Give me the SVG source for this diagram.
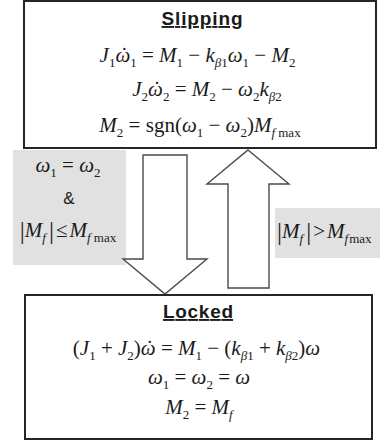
<svg xmlns="http://www.w3.org/2000/svg" width="380" height="443" viewBox="0 0 380 443">
<style>
.box{fill:#fff;stroke:#262626;stroke-width:2}
.grey{fill:#e1e1e1}
.arrow{fill:#fff;stroke:#4a4a4a;stroke-width:1.4;stroke-linejoin:miter}
.title{font-family:"Liberation Sans",Arial,sans-serif;font-weight:bold;font-size:19px;fill:#1a1a1a;text-decoration:underline}
.eq{font-family:"Liberation Serif","Times New Roman",serif;font-size:21px;fill:#1a1a1a}
.i{font-style:italic}
.sb{font-size:13px}
.amp{font-family:"Liberation Sans",Arial,sans-serif;font-size:17px;fill:#1a1a1a}
.bar{font-family:"Liberation Serif","Times New Roman",serif;font-size:25px;fill:#1a1a1a}
</style>
<g id="cond-lock">
<rect class="grey" x="13" y="150" width="113" height="115"/>
<text class="eq" x="68" y="172" text-anchor="middle"><tspan class="i">ω</tspan><tspan class="sb" dy="5">1</tspan><tspan dy="-5"> = </tspan><tspan class="i">ω</tspan><tspan class="sb" dy="5">2</tspan></text>
<text class="amp" x="69" y="204" text-anchor="middle">&amp;</text>
<text class="eq" x="68" y="237" text-anchor="middle"><tspan class="bar" dy="2">|</tspan><tspan class="i" dy="-2">M</tspan><tspan class="sb i" dy="5">f</tspan><tspan class="bar" dy="-3" dx="3">|</tspan><tspan dy="-2" dx="2">≤</tspan><tspan class="i" dx="2">M</tspan><tspan class="sb" dy="5"><tspan class="i">f</tspan> max</tspan></text>
</g>
<g id="cond-slip">
<rect class="grey" x="275" y="208" width="105" height="50"/>
<text class="eq" x="277" y="238"><tspan class="bar" dy="2">|</tspan><tspan class="i" dy="-2">M</tspan><tspan class="sb i" dy="5">f</tspan><tspan class="bar" dy="-3" dx="3">|</tspan><tspan dy="-2" dx="2">&gt;</tspan><tspan class="i" dx="2">M</tspan><tspan class="sb" dy="5"><tspan class="i">f</tspan><tspan dx="1">max</tspan></tspan></text>
</g>
<g id="connectors">
<polygon class="arrow" points="143,155 187,155 187,259 207,259 165,294 123,259 143,259"/>
<polygon class="arrow" points="248,150 289,184 269,184 269,288 228,288 228,184 207,184"/>
</g>
<g id="slipping">
<rect class="box" x="24" y="1" width="352" height="147"/>
<text class="title" x="202" y="25" text-anchor="middle" textLength="81">Slipping</text>
<text class="eq" x="197.5" y="62" text-anchor="middle"><tspan class="i">J</tspan><tspan class="sb" dy="5">1</tspan><tspan class="i" dy="-5">ω</tspan><tspan dx="-9.5">˙</tspan><tspan class="sb" dy="5" dx="2.5">1</tspan><tspan dy="-5"> = </tspan><tspan class="i">M</tspan><tspan class="sb" dy="5">1</tspan><tspan dy="-5"> − </tspan><tspan class="i">k</tspan><tspan class="sb" dy="5"><tspan class="i">β</tspan>1</tspan><tspan class="i" dy="-5">ω</tspan><tspan class="sb" dy="5">1</tspan><tspan dy="-5"> − </tspan><tspan class="i">M</tspan><tspan class="sb" dy="5">2</tspan></text>
<text class="eq" x="207" y="96" text-anchor="middle"><tspan class="i">J</tspan><tspan class="sb" dy="5">2</tspan><tspan class="i" dy="-5">ω</tspan><tspan dx="-9.5">˙</tspan><tspan class="sb" dy="5" dx="2.5">2</tspan><tspan dy="-5"> = </tspan><tspan class="i">M</tspan><tspan class="sb" dy="5">2</tspan><tspan dy="-5"> − </tspan><tspan class="i">ω</tspan><tspan class="sb" dy="5">2</tspan><tspan class="i" dy="-5">k</tspan><tspan class="sb" dy="5"><tspan class="i">β</tspan>2</tspan></text>
<text class="eq" x="200" y="132" text-anchor="middle"><tspan class="i">M</tspan><tspan class="sb" dy="5">2</tspan><tspan dy="-5"> = sgn(</tspan><tspan class="i">ω</tspan><tspan class="sb" dy="5">1</tspan><tspan dy="-5"> − </tspan><tspan class="i">ω</tspan><tspan class="sb" dy="5">2</tspan><tspan dy="-5">)</tspan><tspan class="i">M</tspan><tspan class="sb" dy="5"><tspan class="i">f</tspan> max</tspan></text>
</g>
<g id="locked">
<rect class="box" x="25" y="295" width="347" height="144"/>
<text class="title" x="198" y="318" text-anchor="middle" textLength="70">Locked</text>
<text class="eq" x="196.5" y="355" text-anchor="middle"><tspan>(</tspan><tspan class="i">J</tspan><tspan class="sb" dy="5">1</tspan><tspan dy="-5"> + </tspan><tspan class="i">J</tspan><tspan class="sb" dy="5">2</tspan><tspan dy="-5">)</tspan><tspan class="i">ω</tspan><tspan dx="-9.5">˙</tspan><tspan dx="2.5"> = </tspan><tspan class="i">M</tspan><tspan class="sb" dy="5">1</tspan><tspan dy="-5"> − (</tspan><tspan class="i">k</tspan><tspan class="sb" dy="5"><tspan class="i">β</tspan>1</tspan><tspan dy="-5"> + </tspan><tspan class="i">k</tspan><tspan class="sb" dy="5"><tspan class="i">β</tspan>2</tspan><tspan dy="-5">)</tspan><tspan class="i">ω</tspan></text>
<text class="eq" x="199" y="384" text-anchor="middle"><tspan class="i">ω</tspan><tspan class="sb" dy="5">1</tspan><tspan dy="-5"> = </tspan><tspan class="i">ω</tspan><tspan class="sb" dy="5">2</tspan><tspan dy="-5"> = </tspan><tspan class="i">ω</tspan></text>
<text class="eq" x="199" y="414" text-anchor="middle"><tspan class="i">M</tspan><tspan class="sb" dy="5">2</tspan><tspan dy="-5"> = </tspan><tspan class="i">M</tspan><tspan class="sb i" dy="5">f</tspan></text>
</g>
</svg>
